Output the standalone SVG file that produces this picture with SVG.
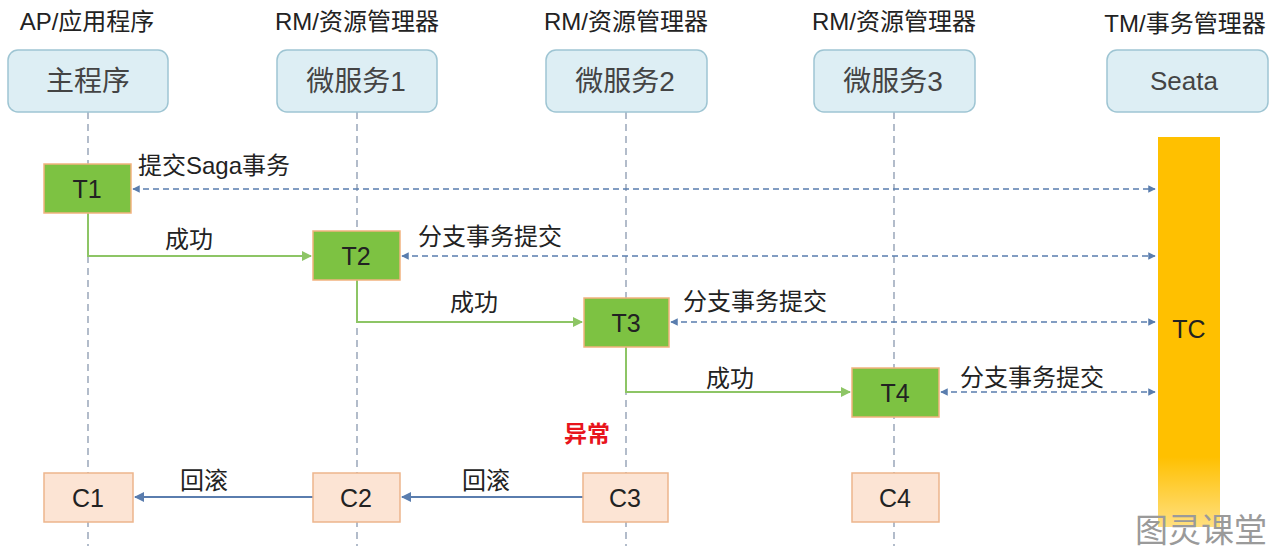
<svg xmlns="http://www.w3.org/2000/svg" width="1280" height="556" viewBox="0 0 1280 556">
<style>
text{font-family:"Liberation Sans","Noto Sans CJK SC",sans-serif;fill:#222;}
.title{font-size:24px;text-anchor:middle;}
.hbox{fill:#DDEEF4;stroke:#9EC5D3;stroke-width:1.5;}
.htxt{font-size:28px;text-anchor:middle;fill:#444;}
.life{stroke:#8090A8;stroke-width:1.2;stroke-dasharray:7 5;fill:none;}
.tbox{fill:#7DC242;stroke:#F2B27F;stroke-width:1.5;}
.cbox{fill:#FCE4D4;stroke:#EDB58C;stroke-width:1.5;}
.btxt{font-size:25px;text-anchor:middle;fill:#222;}
.lbl{font-size:24px;}
.dash{stroke:#5A7DAE;stroke-width:1.5;stroke-dasharray:6 4;fill:none;}
.green{stroke:#8DC565;stroke-width:2;fill:none;}
.back{stroke:#5A7DAE;stroke-width:2;fill:none;}
</style>
<defs>
<marker id="ab" viewBox="0 0 10 10" refX="9" refY="5" markerWidth="5" markerHeight="5" orient="auto-start-reverse"><path d="M0,0 L10,5 L0,10 z" fill="#5A7DAE"/></marker>
<marker id="ag" viewBox="0 0 10 10" refX="9" refY="5" markerWidth="5" markerHeight="5" orient="auto"><path d="M0,0 L10,5 L0,10 z" fill="#8DC565"/></marker>
<linearGradient id="tcg" x1="0" y1="0" x2="0" y2="1"><stop offset="0.82" stop-color="#FFC000"/><stop offset="1" stop-color="#FFC000" stop-opacity="0.5"/></linearGradient>
</defs>
<rect width="1280" height="556" fill="#fff"/>
<g id="lifelines">
<line class="life" x1="88" y1="112" x2="88" y2="546"/>
<line class="life" x1="357" y1="112" x2="357" y2="546"/>
<line class="life" x1="626" y1="112" x2="626" y2="546"/>
<line class="life" x1="894" y1="112" x2="894" y2="546"/>
</g>
<g id="head-main"><text class="title" x="87" y="30">AP/应用程序</text><rect class="hbox" x="8" y="50" width="160" height="62" rx="10"/><text class="htxt" x="88" y="91">主程序</text></g>
<g id="head-ms1"><text class="title" x="357" y="30">RM/资源管理器</text><rect class="hbox" x="277" y="50" width="160" height="62" rx="10"/><text class="htxt" x="356" y="91">微服务1</text></g>
<g id="head-ms2"><text class="title" x="626" y="30">RM/资源管理器</text><rect class="hbox" x="546" y="50" width="161" height="62" rx="10"/><text class="htxt" x="625" y="91">微服务2</text></g>
<g id="head-ms3"><text class="title" x="894" y="30">RM/资源管理器</text><rect class="hbox" x="814" y="50" width="161" height="62" rx="10"/><text class="htxt" x="893" y="91">微服务3</text></g>
<g id="head-seata"><text class="title" x="1185" y="32">TM/事务管理器</text><rect class="hbox" x="1107" y="50" width="161" height="62" rx="10"/><text class="htxt" x="1184" y="90" style="font-size:26px">Seata</text></g>
<g id="tc"><rect x="1158" y="137" width="62" height="390" fill="url(#tcg)"/><text class="btxt" x="1189" y="338">TC</text></g>
<g id="connectors">
<line class="dash" x1="133" y1="189" x2="1155" y2="189" marker-start="url(#ab)" marker-end="url(#ab)"/>
<line class="dash" x1="402" y1="256" x2="1155" y2="256" marker-start="url(#ab)" marker-end="url(#ab)"/>
<line class="dash" x1="671" y1="322" x2="1155" y2="322" marker-start="url(#ab)" marker-end="url(#ab)"/>
<line class="dash" x1="941" y1="392" x2="1155" y2="392" marker-start="url(#ab)" marker-end="url(#ab)"/>
<path class="green" d="M88,213 V256 H311" marker-end="url(#ag)"/>
<path class="green" d="M357,280 V322 H582" marker-end="url(#ag)"/>
<path class="green" d="M626,347 V392 H850" marker-end="url(#ag)"/>
<line class="back" x1="583" y1="497" x2="402" y2="497" marker-end="url(#ab)"/>
<line class="back" x1="313" y1="497" x2="135" y2="497" marker-end="url(#ab)"/>
</g>
<g id="labels">
<text class="lbl" x="138" y="174">提交Saga事务</text>
<text class="lbl" x="165" y="248">成功</text>
<text class="lbl" x="418" y="245">分支事务提交</text>
<text class="lbl" x="450" y="311">成功</text>
<text class="lbl" x="683" y="310">分支事务提交</text>
<text class="lbl" x="706" y="387">成功</text>
<text class="lbl" x="960" y="386">分支事务提交</text>
<text class="lbl" x="180" y="489">回滚</text>
<text class="lbl" x="462" y="489">回滚</text>
<text x="564" y="442" style="font-size:23px;font-weight:bold;fill:#E8141C">异常</text>
</g>
<g id="T1"><rect class="tbox" x="44" y="164" width="87" height="49"/><text class="btxt" x="87" y="198">T1</text></g>
<g id="T2"><rect class="tbox" x="313" y="231" width="87" height="49"/><text class="btxt" x="356" y="265">T2</text></g>
<g id="T3"><rect class="tbox" x="584" y="298" width="85" height="49"/><text class="btxt" x="626" y="332">T3</text></g>
<g id="T4"><rect class="tbox" x="852" y="368" width="87" height="49"/><text class="btxt" x="895" y="402">T4</text></g>
<g id="C1"><rect class="cbox" x="44" y="473" width="89" height="49"/><text class="btxt" x="88" y="507">C1</text></g>
<g id="C2"><rect class="cbox" x="313" y="473" width="87" height="49"/><text class="btxt" x="356" y="507">C2</text></g>
<g id="C3"><rect class="cbox" x="583" y="473" width="85" height="49"/><text class="btxt" x="625" y="507">C3</text></g>
<g id="C4"><rect class="cbox" x="852" y="473" width="87" height="49"/><text class="btxt" x="895" y="507">C4</text></g>
<text x="1201" y="542" style="font-size:33px;fill:#9A9A9A;text-anchor:middle">图灵课堂</text>
</svg>
